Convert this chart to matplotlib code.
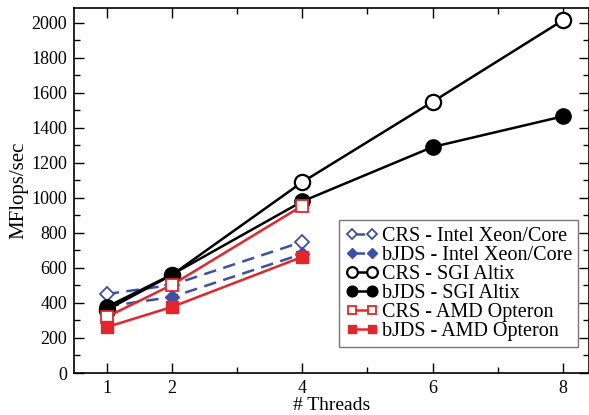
import matplotlib
matplotlib.use('Agg')
import matplotlib.pyplot as plt
from matplotlib.ticker import MultipleLocator

plt.rcParams['font.family'] = ['Liberation Serif', 'DejaVu Serif']

threads_4 = [1, 2, 4]
threads_8 = [1, 2, 4, 6, 8]

crs_intel = [451, 503, 749]
bjds_intel = [380, 434, 680]
crs_sgi = [360, 560, 1090, 1549, 2015]
bjds_sgi = [377, 562, 980, 1291, 1466]
crs_amd = [320, 503, 955]
bjds_amd = [262, 377, 663]

blue = '#3d4fa6'
red = '#e3262b'

fig = plt.figure(figsize=(5.89, 4.15), dpi=100)
ax = fig.add_axes([74/589, 1 - 373/415, 1 - 74/589, (373 - 8)/415])

ax.plot(threads_4, crs_intel, color=blue, ls='--', dashes=(5, 3), lw=1.8, marker='D', ms=7,
        mfc='white', mec=blue, mew=1.3, label='CRS - Intel Xeon/Core')
ax.plot(threads_4, bjds_intel, color=blue, ls='--', dashes=(5, 3), lw=1.8, marker='D', ms=7,
        mfc=blue, mec=blue, label='bJDS - Intel Xeon/Core')
ax.plot(threads_8, crs_sgi, color='black', lw=1.8, marker='o', ms=11,
        mfc='white', mec='black', mew=1.6, label='CRS - SGI Altix')
ax.plot(threads_8, bjds_sgi, color='black', lw=1.8, marker='o', ms=11,
        mfc='black', mec='black', label='bJDS - SGI Altix')
ax.plot(threads_4, crs_amd, color=red, lw=1.8, marker='s', ms=9,
        mfc='white', mec=red, mew=1.3, label='CRS - AMD Opteron')
ax.plot(threads_4, bjds_amd, color=red, lw=1.8, marker='s', ms=9,
        mfc=red, mec=red, label='bJDS - AMD Opteron')

ax.set_xlim(0.5, 8.4)
ax.set_ylim(0, 2085)
ax.set_xticks([1, 2, 4, 6, 8])
ax.xaxis.set_minor_locator(MultipleLocator(1))
ax.yaxis.set_major_locator(MultipleLocator(200))
ax.yaxis.set_minor_locator(MultipleLocator(100))
ax.tick_params(which='both', direction='in', top=True, right=True, labelsize=13, pad=5)
ax.tick_params(which='major', length=7, width=1)
ax.tick_params(which='minor', length=4, width=1)
for s in ax.spines.values():
    s.set_linewidth(1.2)

ax.set_xlabel('# Threads', fontsize=14, labelpad=0)
ax.set_ylabel('MFlops/sec', fontsize=15, labelpad=2)

leg = ax.legend(loc='lower right', bbox_to_anchor=(0.979, 0.071), numpoints=2,
                handlelength=1.6, handletextpad=0.2, fontsize=14.5, frameon=True,
                fancybox=False, edgecolor='#555555', borderpad=0.3, labelspacing=0.0,
                borderaxespad=0, markerscale=0.7)
leg.get_frame().set_linewidth(1.0)

fig.savefig('out.png', dpi=100)
